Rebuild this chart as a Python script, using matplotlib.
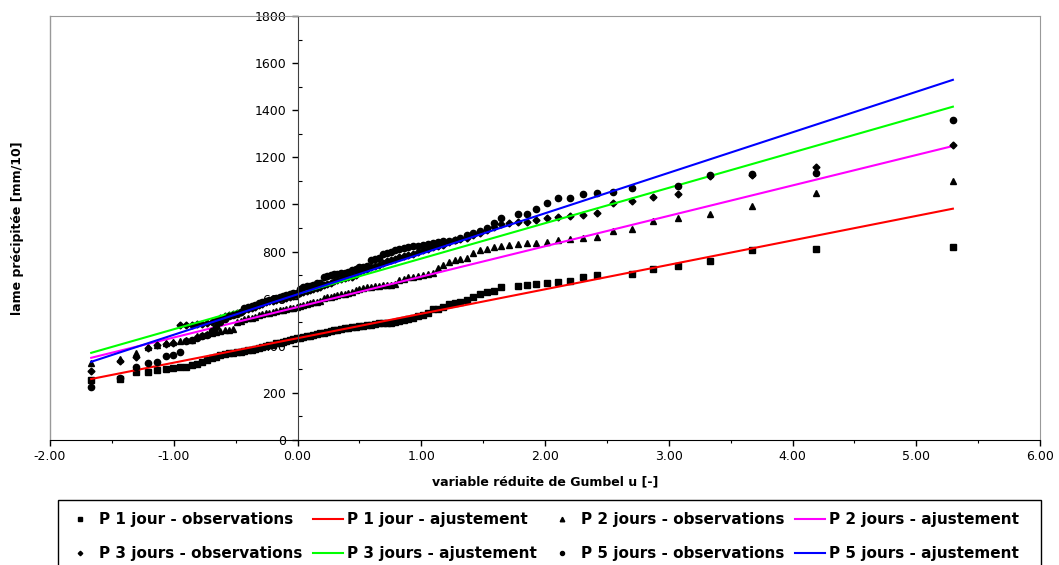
import numpy as np
import matplotlib.pyplot as plt
from matplotlib.patches import Rectangle
from matplotlib.ticker import MultipleLocator, FormatStrFormatter

nan = np.nan

# variable reduite de Gumbel (same for every series)
u = [-1.667, -1.435, -1.305, -1.210, -1.132, -1.065, -1.006, -0.952, -0.902, -0.856,
     -0.813, -0.771, -0.732, -0.694, -0.658, -0.623, -0.589, -0.556, -0.523, -0.492,
     -0.460, -0.430, -0.400, -0.370, -0.341, -0.312, -0.284, -0.255, -0.227, -0.200,
     -0.172, -0.144, -0.117, -0.090, -0.062, -0.035, -0.008, 0.019, 0.047, 0.074,
     0.101, 0.128, 0.156, 0.184, 0.211, 0.239, 0.267, 0.295, 0.323, 0.352,
     0.381, 0.410, 0.439, 0.469, 0.499, 0.530, 0.561, 0.592, 0.624, 0.655,
     0.688, 0.721, 0.755, 0.789, 0.824, 0.860, 0.896, 0.934, 0.972, 1.011,
     1.051, 1.092, 1.134, 1.178, 1.223, 1.269, 1.317, 1.367, 1.418, 1.472,
     1.528, 1.587, 1.648, 1.713, 1.781, 1.854, 1.931, 2.014, 2.102, 2.199,
     2.304, 2.421, 2.551, 2.700, 2.872, 3.078, 3.335, 3.676, 4.192, 5.296]

# observations [mm/10]
p1_obs = [255, 257, 289, 290, 297, 300, 305, 308, 311, 320,
          324, 330, 340, 350, 354, 360, 366, 368, 370, 373,
          375, 378, 380, 383, 386, 390, 395, 400, 403, 405,
          410, 413, 418, 421, 425, 428, 431, 433, 436, 440,
          443, 446, 450, 453, 456, 460, 463, 466, 468, 472,
          475, 476, 478, 480, 483, 486, 488, 490, 492, 495,
          496, 498, 498, 500, 505, 510, 515, 520, 525, 530,
          538, 555, 558, 563, 576, 580, 586, 594, 608, 618,
          627, 634, 651, nan, 654, 658, 662, 668, 671, 675,
          692, 701, nan, 705, 728, 738, 758, 806, 812, 820]

p2_obs = [325, 342, 368, 396, 402, 410, 416, 420, 424, 426,
          440, 446, 450, 454, 458, 462, 465, 468, 470, 500,
          505, 512, 516, 520, 523, 530, 534, 538, 541, 544,
          548, 551, 554, 557, 560, 562, 565, 570, 574, 578,
          581, 584, 587, 590, 603, 606, 609, 612, 615, 618,
          621, 624, 628, 635, 640, 645, 648, 650, 652, 654,
          656, 657, 658, 662, 679, 685, 690, 693, 697, 700,
          705, 707, 729, 743, 757, 764, 768, 771, 795, 806,
          811, 818, 823, 828, 832, 835, 837, 842, 849, 852,
          856, 862, 888, 897, 931, 941, 958, 993, 1048, 1099]

p3_obs = [294, 335, 352, 390, 404, 406, 412, 488, 489, 490,
          491, 493, 495, 500, 510, 518, 525, 530, 534, 540,
          545, 552, 558, 562, 566, 572, 578, 584, 588, 592,
          596, 598, 600, 603, 606, 610, 614, 624, 628, 632,
          636, 640, 645, 650, 656, 662, 668, 675, 679, 683,
          686, 690, 693, 700, 712, 721, 728, 735, 740, 745,
          750, 758, 764, 770, 775, 780, 785, 790, 799, 805,
          812, 818, 823, 828, 840, 849, 852, 856, 870, 877,
          890, 905, 918, 923, 925, 927, 934, 941, 945, 952,
          956, 965, 1008, 1014, 1030, 1043, 1122, 1126, 1160, 1253]

p5_obs = [225, 262, 308, 328, 332, 357, 362, 375, 420, 426,
          432, 440, 446, 462, 478, 500, 512, 525, 530, 533,
          545, 560, 566, 570, 573, 580, 585, 590, 595, 600,
          603, 606, 610, 614, 618, 622, 626, 640, 648, 652,
          655, 660, 665, 668, 693, 697, 700, 703, 705, 707,
          709, 712, 722, 728, 733, 736, 740, 764, 768, 772,
          790, 795, 800, 806, 810, 815, 820, 822, 825, 828,
          832, 836, 840, 843, 846, 849, 856, 870, 880, 888,
          898, 922, 944, nan, 958, 960, 979, 1008, 1026, 1027,
          1045, 1048, 1054, 1068, nan, 1079, 1125, 1128, 1132, 1358]

# ajustement (end points of the fitted lines)
u_fit = [-1.667, 5.296]
p1_fit = [259, 982]
p2_fit = [349, 1248]
p3_fit = [370, 1415]
p5_fit = [332, 1529]

plt.rcParams['axes.unicode_minus'] = False
plt.rcParams['font.family'] = ['DejaVu Sans']

fig = plt.figure(figsize=(10.59, 5.65), dpi=100)
ax = fig.add_axes([50/1059, 1-440/565, 990/1059, 424/565])

h1o, = ax.plot(u, p1_obs, 's', color='black', ms=4, ls='none', label='P 1 jour - observations')
h1f, = ax.plot(u_fit, p1_fit, color='#FF0000', lw=1.5, label='P 1 jour - ajustement')
h2o, = ax.plot(u, p2_obs, '^', color='black', ms=5, ls='none', label='P 2 jours - observations')
h2f, = ax.plot(u_fit, p2_fit, color='#FF00FF', lw=1.5, label='P 2 jours - ajustement')
h3o, = ax.plot(u, p3_obs, 'D', color='black', ms=3.5, ls='none', label='P 3 jours - observations')
h3f, = ax.plot(u_fit, p3_fit, color='#00FF00', lw=1.5, label='P 3 jours - ajustement')
h5o, = ax.plot(u, p5_obs, 'o', color='black', ms=4.5, ls='none', label='P 5 jours - observations')
h5f, = ax.plot(u_fit, p5_fit, color='#0000FF', lw=1.5, label='P 5 jours - ajustement')

ax.set_xlim(-2, 6)
ax.set_ylim(0, 1800)

# axes cross at (0, 0), grey plot-area frame
ax.spines['left'].set_position(('data', 0))
ax.spines['left'].set_color('#404040')
ax.spines['bottom'].set_color('black')
for s in ['top', 'right']:
    ax.spines[s].set_color('#999999')
ax.plot([0, 0], [0, 1], transform=ax.transAxes, color='#999999', lw=1, clip_on=False)

ax.xaxis.set_major_locator(MultipleLocator(1))
ax.xaxis.set_minor_locator(MultipleLocator(0.5))
ax.xaxis.set_major_formatter(FormatStrFormatter('%.2f'))
ax.yaxis.set_major_locator(MultipleLocator(200))
ax.yaxis.set_minor_locator(MultipleLocator(100))

ax.tick_params(axis='x', which='major', direction='out', length=4, width=1, pad=3, labelsize=9)
ax.tick_params(axis='x', which='minor', direction='out', length=2.5, width=0.8)
ax.tick_params(axis='y', which='major', direction='out', length=4, width=1, pad=4, labelsize=9)
ax.tick_params(axis='y', which='minor', direction='in', length=3, width=0.8)

fig.text(18/1059, 1-228/565, 'lame précipitée [mm/10]', rotation=90,
         ha='center', va='center', fontsize=9, fontweight='bold')
fig.text(545/1059, 1-482/565, 'variable réduite de Gumbel u [-]',
         ha='center', va='center', fontsize=9, fontweight='bold')

# legend, column-major order so rows read P1, P2 / P3, P5
fig.legend(handles=[h1o, h3o, h1f, h3f, h2o, h5o, h2f, h5f], ncol=4,
           loc='upper left', bbox_to_anchor=(65/1059, 1-512/565),
           bbox_transform=fig.transFigure, frameon=False,
           borderpad=0, borderaxespad=0, handlelength=2.0, handletextpad=0.25,
           columnspacing=0.65, labelspacing=1.25, markerscale=0.65,
           prop={'weight': 'bold', 'size': 11})
fig.add_artist(Rectangle((58/1059, -0.02), (1041-58)/1059, (1-500/565)+0.02,
                         transform=fig.transFigure, fill=False,
                         edgecolor='black', lw=1))

fig.savefig('out.png', dpi=100)
